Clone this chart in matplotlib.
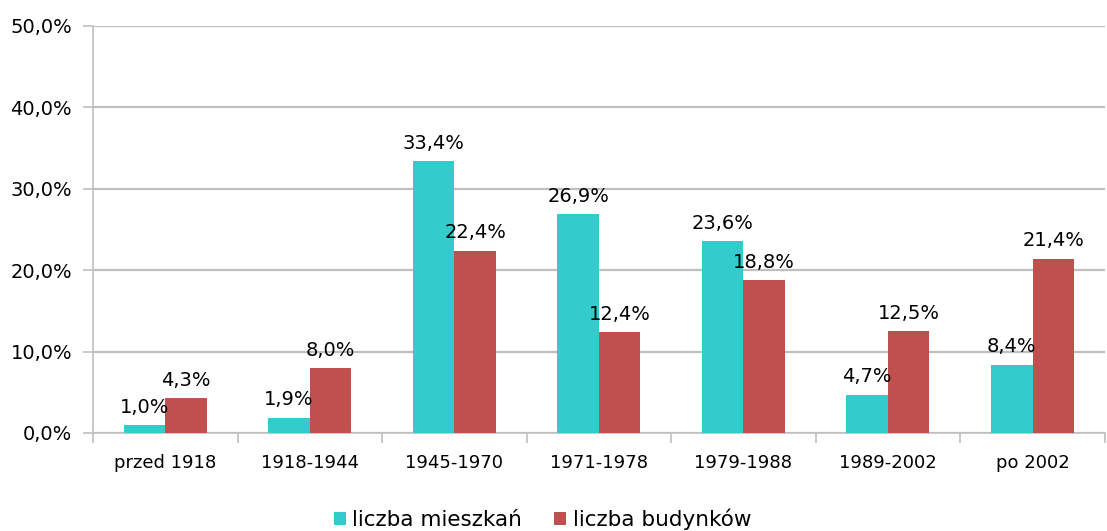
import numpy as np
import matplotlib.pyplot as plt

categories = ["przed 1918", "1918-1944", "1945-1970", "1971-1978", "1979-1988", "1989-2002", "po 2002"]
mieszkan = [1.0, 1.9, 33.4, 26.9, 23.6, 4.7, 8.4]
budynkow = [4.3, 8.0, 22.4, 12.4, 18.8, 12.5, 21.4]
series_names = ["liczba mieszkań", "liczba budynków"]

plt.rcParams['font.family'] = ['DejaVu Sans']
fig = plt.figure(figsize=(11.07, 5.31), dpi=100)
ax = fig.add_axes([0.084, 0.1846, 0.914, 0.7665])

x = np.arange(len(categories))
w = 0.287
grid_c = "#BFBFBF"

b1 = ax.bar(x - w/2, mieszkan, w, color="#33CCCC", label=series_names[0], zorder=3)
b2 = ax.bar(x + w/2, budynkow, w, color="#C0504D", label=series_names[1], zorder=3)

def fmt(v):
    return ("%.1f%%" % v).replace(".", ",")

for bars, vals in ((b1, mieszkan), (b2, budynkow)):
    for r, v in zip(bars, vals):
        ax.annotate(fmt(v), (r.get_x() + r.get_width()/2, v), xytext=(0, 6),
                    textcoords="offset points", ha="center", va="bottom",
                    fontsize=14, zorder=4)

ax.set_xlim(-0.5, len(categories) - 0.5)
ax.set_ylim(0, 50)
ax.set_yticks(np.arange(0, 51, 10))
ax.set_yticklabels([fmt(v) for v in np.arange(0, 51, 10)])
ax.yaxis.grid(True, color=grid_c, linewidth=1.6, zorder=0)

ax.set_xticks(x)
ax.set_xticklabels(categories)
ax.set_xticks(np.arange(-0.5, len(categories)), minor=True)
ax.tick_params(axis="x", which="major", length=0, pad=15, labelsize=13)
ax.tick_params(axis="x", which="minor", length=7, color=grid_c, width=1.2)
ax.tick_params(axis="y", length=7, color=grid_c, width=1.2, labelsize=14, pad=8)

for s in ["top", "right"]:
    ax.spines[s].set_visible(False)
ax.spines["left"].set_color(grid_c)
ax.spines["bottom"].set_color(grid_c)
ax.spines["left"].set_linewidth(1.2)
ax.spines["bottom"].set_linewidth(1.2)

fig.legend(loc="lower center", bbox_to_anchor=(0.49, -0.035), ncol=2, frameon=False,
           fontsize=15.5, handlelength=0.55, handleheight=0.55, handletextpad=0.3,
           columnspacing=1.5)

fig.savefig("out.png", dpi=100)
